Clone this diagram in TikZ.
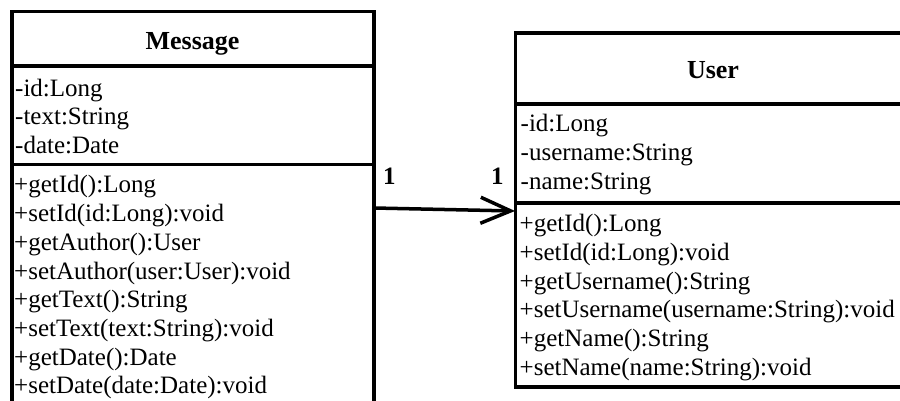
\documentclass[tikz,border=0pt]{standalone}
\usepackage{fontspec}
\setmainfont{Liberation Serif}
\usetikzlibrary{arrows.meta}

\tikzset{
  classbox/.style={draw, line width=3.6pt, rectangle, inner sep=0pt, outer sep=0pt, anchor=north west},
  divider/.style={line width=3.6pt},
  member/.style={inner sep=0pt, anchor=base west, font=\fontsize{25}{29}\selectfont},
  classtitle/.style={inner sep=0pt, anchor=base, font=\fontsize{26}{30}\selectfont\bfseries},
  mult/.style={inner sep=0pt, anchor=base west, font=\fontsize{25}{29}\selectfont\bfseries},
  assoc/.style={line width=3.5pt, -{Straight Barb[length=30pt,width=26pt,line width=3.5pt]}},
}

\begin{document}
\begin{tikzpicture}[x=1pt,y=-1pt]
  \useasboundingbox (0,0) rectangle (900,401);
  \clip (0,0) rectangle (900,401);

  % Message class (continues past the lower edge)
  \node[classbox, minimum width=362pt, minimum height=430pt] (message) at (12,11.5) {};
  \coordinate (mdivA) at (12,66);
  \coordinate (mdivB) at (12,164.5);
  \draw[divider] (mdivA) -- (mdivA -| message.east);
  \draw[divider] (mdivB) -- (mdivB -| message.east);
  \node[classtitle] (messagetitle) at (192.5,50) {Message};
  \foreach \t [count=\i] in {{-id:Long},{-text:String},{-date:Date}}
    \node[member] (mattr\i) at (15,{96.5+28.5*(\i-1)}) {\t};
  \foreach \t [count=\i] in {{+getId():Long},{+setId(id:Long):void},{+getAuthor():User},
      {+setAuthor(user:User):void},{+getText():String},{+setText(text:String):void},
      {+getDate():Date},{+setDate(date:Date):void}}
    \node[member] (mop\i) at (14,{193+28.7*(\i-1)}) {\t};

  % User class (continues past the right edge)
  \node[classbox, minimum width=397pt, minimum height=354pt] (user) at (515.3,33) {};
  \coordinate (udivA) at (515.3,104);
  \coordinate (udivB) at (515.3,203);
  \draw[divider] (udivA) -- (udivA -| user.east);
  \draw[divider] (udivB) -- (udivB -| user.east);
  \node[classtitle] (usertitle) at (713,79) {User};
  \foreach \t [count=\i] in {{-id:Long},{-username:String},{-name:String}}
    \node[member] (uattr\i) at (520.5,{131.7+28.7*(\i-1)}) {\t};
  \foreach \t [count=\i] in {{+getId():Long},{+setId(id:Long):void},{+getUsername():String},
      {+setUsername(username:String):void},{+getName():String},{+setName(name:String):void}}
    \node[member] (uop\i) at (519.5,{231.7+28.7*(\i-1)}) {\t};

  % Association Message -> User
  \coordinate (assocsrc) at (374,208);
  \coordinate (assocdst) at (515,211);
  \draw[assoc] (assocsrc) -- (assocdst);
  \node[mult] (multsrc) at (383,185) {1};
  \node[mult] (multdst) at (491,185) {1};
\end{tikzpicture}
\end{document}
